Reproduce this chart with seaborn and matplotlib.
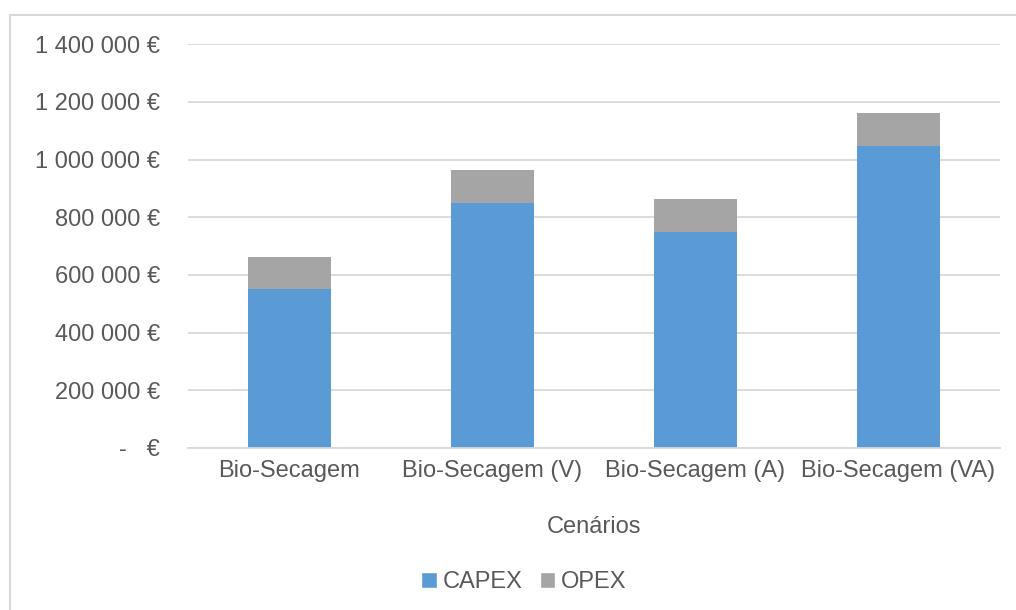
import matplotlib
matplotlib.use("Agg")
import matplotlib.pyplot as plt
from matplotlib.patches import Patch, Rectangle
from matplotlib.ticker import FuncFormatter, MultipleLocator
import seaborn as sns
import pandas as pd

# Investment costs per drying scenario (EUR)
cenarios = ["Bio-Secagem", "Bio-Secagem (V)", "Bio-Secagem (A)", "Bio-Secagem (VA)"]
capex = [550000, 848000, 750000, 1048000]
opex = [114000, 115000, 113000, 115000]

capex_color = "#5B9BD5"
opex_color = "#A5A5A5"
text_color = "#595959"
grid_color = "#D9D9D9"

sns.set_theme(style="white")
plt.rcParams["font.family"] = ["Liberation Sans", "DejaVu Sans"]

df = pd.DataFrame({"Cenário": cenarios, "CAPEX": capex, "OPEX": opex})
df["Total"] = df["CAPEX"] + df["OPEX"]

fig = plt.figure(figsize=(10.16, 6.1), dpi=100)
ax = fig.add_axes([188 / 1016, 1 - 448 / 610, (1000 - 188) / 1016, (448 - 44.3) / 610])

# Stacked bars: the full height in grey, CAPEX drawn over its lower part
sns.barplot(data=df, x="Cenário", y="Total", order=cenarios, color=opex_color,
            width=0.406, saturation=1, ax=ax, zorder=3, linewidth=0)
sns.barplot(data=df, x="Cenário", y="CAPEX", order=cenarios, color=capex_color,
            width=0.406, saturation=1, ax=ax, zorder=3, linewidth=0)

ax.set_xlim(-0.5, len(cenarios) - 0.5)
ax.set_ylim(0, 1400000)
ax.yaxis.set_major_locator(MultipleLocator(200000))


def euro(v, pos):
    if v == 0:
        return "-   €"
    return f"{int(round(v)):,}".replace(",", " ") + " €"


ax.yaxis.set_major_formatter(FuncFormatter(euro))
ax.grid(axis="y", color=grid_color, linewidth=1.3, zorder=0)
ax.set_axisbelow(True)

for side in ["top", "right", "left"]:
    ax.spines[side].set_visible(False)
ax.spines["bottom"].set_color(grid_color)
ax.spines["bottom"].set_linewidth(1.3)
ax.spines["bottom"].set_zorder(4)

ax.tick_params(axis="both", length=0, labelsize=17, labelcolor=text_color)
ax.tick_params(axis="y", pad=20)
ax.tick_params(axis="x", pad=9)

ax.set_ylabel("")
ax.set_xlabel("Cenários", fontsize=17, color=text_color, labelpad=24)

handles = [Patch(facecolor=capex_color, label="CAPEX"),
           Patch(facecolor=opex_color, label="OPEX")]
fig.legend(handles=handles, loc="center", bbox_to_anchor=(524 / 1016, 1 - 582 / 610),
           ncol=2, frameon=False, fontsize=17, labelcolor=text_color,
           handlelength=0.65, handleheight=0.65, handletextpad=0.25, columnspacing=0.75)

# Light chart-area border
fig.patches.append(Rectangle((9.5 / 1016, -0.05), 1.2, 1 - 15 / 610 + 0.05,
                             transform=fig.transFigure, fill=False,
                             edgecolor=grid_color, linewidth=1.5))

fig.savefig("out.png", dpi=100, facecolor="white")
